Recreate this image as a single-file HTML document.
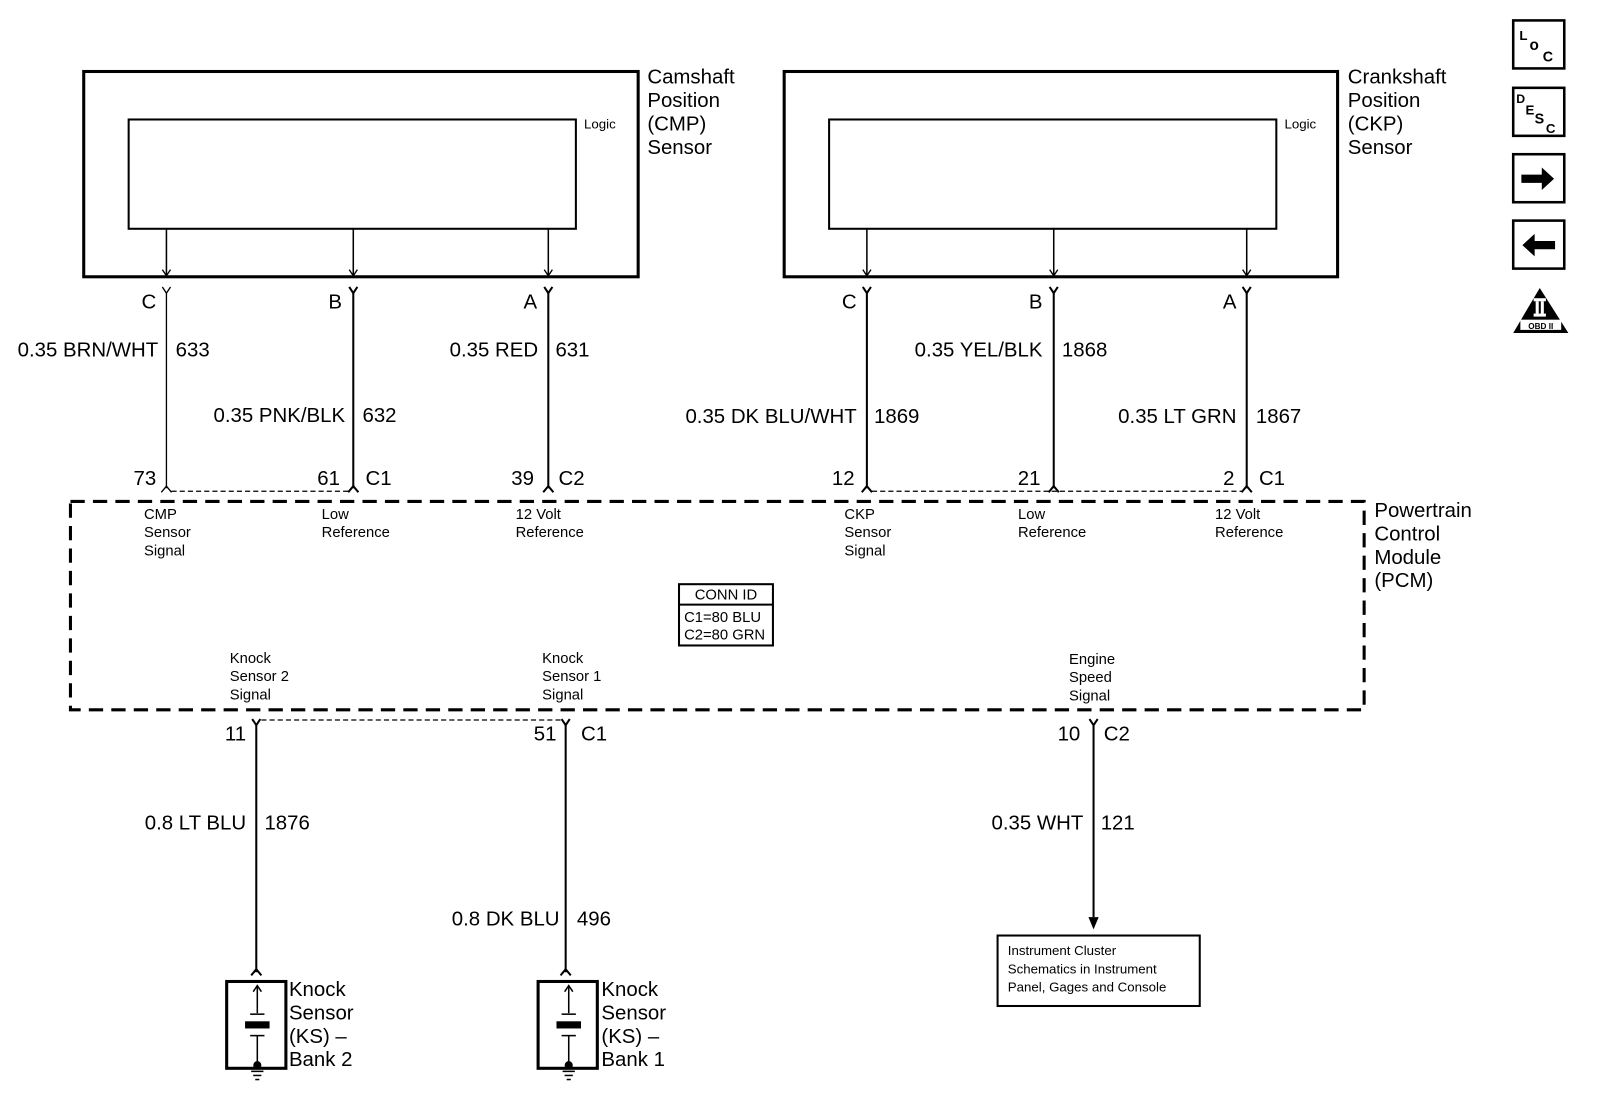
<!DOCTYPE html>
<html><head><meta charset="utf-8"><style>
html,body{margin:0;padding:0;background:#fff;}
svg{display:block;}
text{font-family:"Liberation Sans",Arial,sans-serif;fill:#000;}
.l{font-size:20px;}
.s{font-size:14.5px;}
.t{font-size:13px;}
.r{text-anchor:end;}
</style></head><body>
<svg width="1600" height="1102" viewBox="0 0 1567 1079" preserveAspectRatio="none" xmlns="http://www.w3.org/2000/svg">
<defs>
<marker id="ah" markerWidth="10" markerHeight="10" refX="5" refY="9" orient="0" markerUnits="userSpaceOnUse"><path d="M1,3 L5,9 L9,3" fill="none" stroke="#000" stroke-width="1.3"/></marker>
</defs>
<g fill="none" stroke="#000">
<rect x="82" y="70" width="543" height="201" stroke-width="3"/>
<rect x="126" y="117" width="438" height="107" stroke-width="2"/>
<rect x="768" y="70" width="542" height="201" stroke-width="3"/>
<rect x="812" y="117" width="438" height="107" stroke-width="2"/>
</g>
<g stroke="#000" fill="none" stroke-width="1.5">
<line x1="163" y1="224" x2="163" y2="270" marker-end="url(#ah)"/>
<line x1="346" y1="224" x2="346" y2="270" marker-end="url(#ah)"/>
<line x1="537" y1="224" x2="537" y2="270" marker-end="url(#ah)"/>
<line x1="849" y1="224" x2="849" y2="270" marker-end="url(#ah)"/>
<line x1="1032" y1="224" x2="1032" y2="270" marker-end="url(#ah)"/>
<line x1="1221" y1="224" x2="1221" y2="270" marker-end="url(#ah)"/>
</g>
<g stroke="#000" fill="none">
<g stroke-width="1.3">
<path d="M159,281 L163,287 L167,281"/><line x1="163" y1="287" x2="163" y2="478"/><path d="M158,482 L163,476 L168,482"/>
</g>
<g stroke-width="2">
<path d="M342,281 L346,287 L350,281"/><line x1="346" y1="287" x2="346" y2="478"/><path d="M341,482 L346,476 L351,482"/>
<path d="M533,281 L537,287 L541,281"/><line x1="537" y1="287" x2="537" y2="478"/><path d="M532,482 L537,476 L542,482"/>
<path d="M845,281 L849,287 L853,281"/><line x1="849" y1="287" x2="849" y2="478"/><path d="M844,482 L849,476 L854,482"/>
<path d="M1028,281 L1032,287 L1036,281"/><line x1="1032" y1="287" x2="1032" y2="478"/><path d="M1027,482 L1032,476 L1037,482"/>
<path d="M1217,281 L1221,287 L1225,281"/><line x1="1221" y1="287" x2="1221" y2="478"/><path d="M1216,482 L1221,476 L1226,482"/>
</g>
<line x1="168" y1="481" x2="341" y2="481" stroke-width="1.2" stroke-dasharray="5,3"/>
<line x1="854" y1="481" x2="1216" y2="481" stroke-width="1.2" stroke-dasharray="5,3"/>
<rect x="69" y="491" width="1267" height="204" stroke-width="3" stroke-dasharray="14,8"/>
<rect x="665" y="572" width="92" height="60" stroke-width="2"/>
<line x1="665" y1="592" x2="757" y2="592" stroke-width="2"/>
<g stroke-width="2">
<path d="M247,704 L251,710 L255,704"/><line x1="251" y1="710" x2="251" y2="952"/><path d="M246,955 L251,949 L256,955"/>
<path d="M550,704 L554,710 L558,704"/><line x1="554" y1="710" x2="554" y2="952"/><path d="M549,955 L554,949 L559,955"/>
<path d="M1067,704 L1071,710 L1075,704"/><line x1="1071" y1="710" x2="1071" y2="898"/>
</g>
<line x1="256" y1="705" x2="549" y2="705" stroke-width="1.2" stroke-dasharray="5,3"/>
<rect x="977" y="916" width="198" height="69" stroke-width="2"/>
<g stroke-width="3"><rect x="222" y="961" width="58" height="85"/><rect x="527" y="961" width="58" height="85"/></g>
<g stroke-width="1.5">
<line x1="252" y1="966" x2="252" y2="992"/><path d="M248,971 L252,965 L256,971"/><line x1="245" y1="993" x2="259" y2="993"/><line x1="245" y1="1014" x2="259" y2="1014"/><line x1="252" y1="1014" x2="252" y2="1042"/>
<line x1="246" y1="1049" x2="258" y2="1049"/><line x1="248" y1="1053" x2="256" y2="1053"/><line x1="250" y1="1057" x2="254" y2="1057"/>
<line x1="557" y1="966" x2="557" y2="992"/><path d="M553,971 L557,965 L561,971"/><line x1="550" y1="993" x2="564" y2="993"/><line x1="550" y1="1014" x2="564" y2="1014"/><line x1="557" y1="1014" x2="557" y2="1042"/>
<line x1="551" y1="1049" x2="563" y2="1049"/><line x1="553" y1="1053" x2="561" y2="1053"/><line x1="555" y1="1057" x2="559" y2="1057"/>
</g>
<g stroke-width="2.5"><rect x="1482" y="20" width="50" height="47"/><rect x="1482" y="86" width="50" height="47"/><rect x="1482" y="151" width="50" height="47"/><rect x="1482" y="216" width="50" height="47"/></g>
</g>
<g fill="#000">
<polygon points="1066,898 1076,898 1071,910"/>
<rect x="240" y="1000" width="24" height="7"/><rect x="545" y="1000" width="24" height="7"/>
<circle cx="252" cy="1043" r="4"/><circle cx="557" cy="1043" r="4"/>
<polygon points="1490,171 1510,171 1510,164 1522,175 1510,186 1510,179 1490,179"/>
<polygon points="1523,236 1503,236 1503,229 1491,240 1503,251 1503,244 1523,244"/>
<polygon points="1508,282 1482,326 1536,326"/>
</g>
<rect x="1489" y="313" width="40" height="10" fill="#fff"/>
<rect x="1502" y="292" width="12" height="3" fill="#fff"/><rect x="1502" y="307" width="12" height="3" fill="#fff"/><rect x="1504" y="295" width="3" height="12" fill="#fff"/><rect x="1509" y="295" width="3" height="12" fill="#fff"/>
<text x="1509" y="322" font-size="8" text-anchor="middle" font-weight="bold">OBD II</text>
<text x="1488" y="39" font-size="13" font-weight="bold">L</text><text x="1498" y="49" font-size="15" font-weight="bold">o</text><text x="1511" y="60" font-size="14" font-weight="bold">C</text>
<text x="1485" y="101" font-size="12" font-weight="bold">D</text><text x="1494" y="112" font-size="13" font-weight="bold">E</text><text x="1503" y="121" font-size="14" font-weight="bold">S</text><text x="1514" y="130" font-size="13" font-weight="bold">C</text>

<text class="t" x="572" y="126">Logic</text><text class="t" x="1258" y="126">Logic</text>
<g class="l">
<text x="634" y="82">Camshaft</text><text x="634" y="105">Position</text><text x="634" y="128">(CMP)</text><text x="634" y="151">Sensor</text>
<text x="1320" y="82">Crankshaft</text><text x="1320" y="105">Position</text><text x="1320" y="128">(CKP)</text><text x="1320" y="151">Sensor</text>
<text x="1346" y="506">Powertrain</text><text x="1346" y="529">Control</text><text x="1346" y="552">Module</text><text x="1346" y="575">(PCM)</text>
<text class="r" x="153" y="302">C</text><text class="r" x="335" y="302">B</text><text class="r" x="526" y="302">A</text>
<text class="r" x="839" y="302">C</text><text class="r" x="1021" y="302">B</text><text class="r" x="1211" y="302">A</text>
<text class="r" x="155" y="349">0.35 BRN/WHT</text><text x="172" y="349">633</text>
<text class="r" x="338" y="413">0.35 PNK/BLK</text><text x="355" y="413">632</text>
<text class="r" x="527" y="349">0.35 RED</text><text x="544" y="349">631</text>
<text class="r" x="839" y="414">0.35 DK BLU/WHT</text><text x="856" y="414">1869</text>
<text class="r" x="1021" y="349">0.35 YEL/BLK</text><text x="1040" y="349">1868</text>
<text class="r" x="1211" y="414">0.35 LT GRN</text><text x="1230" y="414">1867</text>
<text class="r" x="153" y="475">73</text>
<text class="r" x="333" y="475">61</text><text x="358" y="475">C1</text>
<text class="r" x="523" y="475">39</text><text x="547" y="475">C2</text>
<text class="r" x="837" y="475">12</text>
<text class="r" x="1019" y="475">21</text>
<text class="r" x="1209" y="475">2</text><text x="1233" y="475">C1</text>
<text class="r" x="241" y="725">11</text>
<text class="r" x="545" y="725">51</text><text x="569" y="725">C1</text>
<text class="r" x="1058" y="725">10</text><text x="1081" y="725">C2</text>
<text class="r" x="241" y="812">0.8 LT BLU</text><text x="259" y="812">1876</text>
<text class="r" x="548" y="906">0.8 DK BLU</text><text x="565" y="906">496</text>
<text class="r" x="1061" y="812">0.35 WHT</text><text x="1078" y="812">121</text>
<text x="283" y="975">Knock</text><text x="283" y="998">Sensor</text><text x="283" y="1021">(KS) –</text><text x="283" y="1044">Bank 2</text>
<text x="589" y="975">Knock</text><text x="589" y="998">Sensor</text><text x="589" y="1021">(KS) –</text><text x="589" y="1044">Bank 1</text>
</g>
<g class="s">
<text x="141" y="508">CMP</text><text x="141" y="526">Sensor</text><text x="141" y="544">Signal</text>
<text x="315" y="508">Low</text><text x="315" y="526">Reference</text>
<text x="505" y="508">12 Volt</text><text x="505" y="526">Reference</text>
<text x="827" y="508">CKP</text><text x="827" y="526">Sensor</text><text x="827" y="544">Signal</text>
<text x="997" y="508">Low</text><text x="997" y="526">Reference</text>
<text x="1190" y="508">12 Volt</text><text x="1190" y="526">Reference</text>
<text x="225" y="649">Knock</text><text x="225" y="667">Sensor 2</text><text x="225" y="685">Signal</text>
<text x="531" y="649">Knock</text><text x="531" y="667">Sensor 1</text><text x="531" y="685">Signal</text>
<text x="1047" y="650">Engine</text><text x="1047" y="668">Speed</text><text x="1047" y="686">Signal</text>
<text x="711" y="587" text-anchor="middle">CONN ID</text>
<text x="670" y="609">C1=80 BLU</text><text x="670" y="626">C2=80 GRN</text>
</g>
<g class="t">
<text x="987" y="935">Instrument Cluster</text><text x="987" y="953">Schematics in Instrument</text><text x="987" y="971">Panel, Gages and Console</text>
</g>
</svg>
</body></html>
